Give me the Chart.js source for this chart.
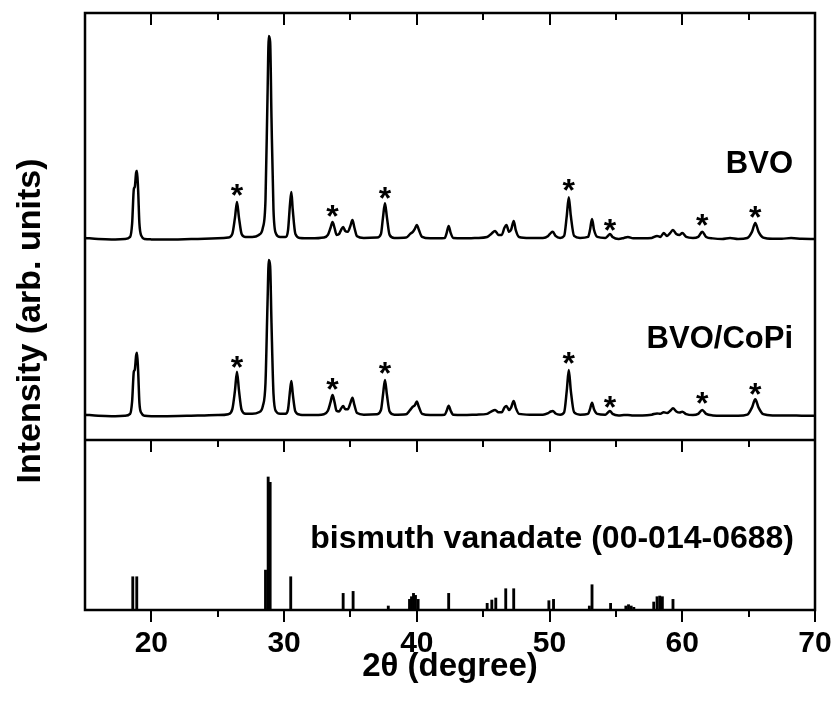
<!DOCTYPE html>
<html>
<head>
<meta charset="utf-8">
<script src="https://cdn.jsdelivr.net/npm/chart.js@4.4.1/dist/chart.umd.min.js"></script>
<style>
html,body{margin:0;padding:0;background:#fff;}
#wrap{width:836px;height:708px;position:relative;}
</style>
</head>
<body>
<div id="wrap"><canvas id="c" width="836" height="708"></canvas></div>
<script>
// ---- DATA ----
const theta = [15,16,17,18,18.4,18.55,18.68,18.75,18.85,18.92,19.0,19.1,19.25,19.5,20,21,22,23,24,25,25.8,26.1,26.3,26.45,26.6,26.8,27.1,27.6,28.1,28.4,28.6,28.75,28.85,28.95,29.05,29.2,29.4,29.7,30.1,30.3,30.45,30.55,30.65,30.85,31.2,32,33,33.3,33.5,33.65,33.8,33.95,34.15,34.3,34.45,34.6,34.8,35.0,35.15,35.3,35.5,36,37,37.3,37.45,37.6,37.75,37.95,38.3,39.2,39.5,39.7,39.85,40.0,40.15,40.4,41,42.1,42.25,42.4,42.55,42.75,43.5,44.5,45.3,45.6,45.9,46.15,46.4,46.6,46.75,46.95,47.1,47.3,47.45,47.7,48.5,49.5,49.9,50.1,50.25,50.45,50.8,51.1,51.3,51.45,51.6,51.85,52.3,52.9,53.05,53.2,53.35,53.6,54.2,54.4,54.55,54.75,55.2,55.6,55.9,56.3,57,57.7,58.1,58.35,58.6,58.85,59.1,59.3,59.55,59.8,60,60.3,60.8,61.2,61.5,61.8,62.3,63,63.6,64.2,64.9,65.25,65.5,65.75,66.1,66.8,67.5,68.2,69,70];

const bvoIntensity = [1.0,0.5,0.3,0.5,1.5,8,25,26,33,34,25,8,2,0.5,0.3,0.2,0.3,0.5,0.6,0.8,1.2,3,11,18.6,11,3,1.5,1.5,2.5,6,20,70,100,97,60,15,3,1.5,1.5,5,18,23.5,15,3,1,0.8,1.2,2.5,6,8.8,6,2.5,3,5,6.4,4.5,4,7,9.8,6,1.8,1,1.2,3,11,18,11,2.5,1,1.2,3,4,5.5,7.4,5,1.5,0.8,1,3.5,6.9,3.5,1,0.8,1,1.5,3,4.4,2.5,2.5,6,7.4,4,5,9.3,5,1.5,1,1,2,3.5,4,2,1,2,12,21,12,2,1,1.5,5,10.3,5,1.5,1,2,3,1.5,0.5,1,1.5,0.8,0.8,1,2,1.5,3.4,2,3.5,4.9,3,2.5,3.4,1.5,1,1.5,4,1.5,0.8,0.5,1,0.5,1,4,8.3,4,1.2,0.6,0.6,1,0.6,0.5];

const copiIntensity = [1.5,0.8,0.5,0.8,2,10,29,30,39,41,30,9,2.5,0.8,0.5,0.5,0.6,0.8,1,1.2,1.8,5,17,28.9,17,4.5,2,2,3,7,22,72,100,96,60,15,3.5,2,2,5,17,23,15,3.5,1.5,1.2,1.8,4,9.5,14,9.5,4,3.5,5.5,7,5,5,9,12.3,7.5,2.5,1.5,1.8,4.5,14,23.6,14,3.5,1.5,1.8,4.5,6.6,7.5,9.8,6.5,2,1.2,1.5,4,7.2,4,1.5,1.2,1.5,2,3.5,4.5,3,3,6,7,4.5,6,10.2,6,2,1.5,1.5,2.5,3.5,3.8,2.2,1.5,3,17,30,17,3,1.5,2,5,9.1,5,2,1.5,2.8,3.8,2,1,1.2,1.3,1,1,1.5,2.3,2,3,2.5,4,5.5,3.5,2.8,3.4,1.8,1.2,2,4.5,2,1,0.8,0.8,0.8,1.5,6,11.3,6,1.8,1,1,1,0.8,0.8];

const refTheta = [18.6,18.9,28.6,28.8,28.95,30.5,34.45,35.2,37.85,39.45,39.6,39.75,39.9,40.1,42.4,45.3,45.65,45.95,46.7,47.3,49.95,50.3,53.0,53.2,54.6,55.75,55.95,56.15,56.35,57.85,58.1,58.3,58.5,59.3];
const refIntensity = [25,25,30,100,96,25,12.5,14,3,8,10,12.5,11,8,12.5,5,7.5,9,16,16,7,8,3,19,5,3,4,3,2,6,10,10.5,10,8];

const starTheta = [26.45,33.65,37.6,51.45,54.55,61.5,65.5];
const starBVO   = [24.5,14.2,23,27,7.4,9.8,13.7];
const starCoPi  = [35.2,21,31,37.4,9.7,11.9,17.6];

const majorTicks = [20,30,40,50,60,70];
const minorTicks = [25,35,45,55,65];
const seriesNames = ['BVO','BVO/CoPi','bismuth vanadate (00-014-0688)'];
const xTitle = '2θ (degree)';
const yTitle = 'Intensity (arb. units)';

// ---- CHART ----
const FAM = '"Liberation Sans", Arial, Helvetica, sans-serif';

const decor = {
  id: 'decor',
  afterDatasetsDraw(chart) {
    const {ctx, chartArea: a, scales} = chart;
    const x = scales.x, yB = scales.yBVO, yC = scales.yCoPi, yR = scales.yRef;
    ctx.save();
    ctx.fillStyle = '#000';
    ctx.strokeStyle = '#000';
    // asterisks
    ctx.font = 'bold 32px ' + FAM;
    ctx.textAlign = 'center';
    ctx.textBaseline = 'alphabetic';
    const m = ctx.measureText('*');
    const off = (m.actualBoundingBoxAscent - m.actualBoundingBoxDescent) / 2;
    starTheta.forEach((t, i) => {
      const px = x.getPixelForValue(t);
      ctx.fillText('*', px, yB.getPixelForValue(starBVO[i]) + off);
      ctx.fillText('*', px, yC.getPixelForValue(starCoPi[i]) + off);
    });
    // series labels
    ctx.textAlign = 'right';
    ctx.font = 'bold 31px ' + FAM;
    ctx.fillText(seriesNames[0], a.right - 22, yB.top + 160);
    ctx.fillText(seriesNames[1], a.right - 22, yC.top + 107);
    ctx.font = 'bold 32px ' + FAM;
    ctx.fillText(seriesNames[2], a.right - 21, yR.top + 108);
    // frame
    ctx.lineWidth = 2.5;
    ctx.strokeRect(a.left, a.top, a.right - a.left, a.bottom - a.top);
    ctx.beginPath();
    ctx.moveTo(a.left, yR.top);
    ctx.lineTo(a.right, yR.top);
    ctx.stroke();
    // ticks
    ctx.lineWidth = 2;
    const drawTicks = (vals, len) => {
      ctx.beginPath();
      vals.forEach(v => {
        const px = Math.round(x.getPixelForValue(v));
        ctx.moveTo(px, a.top); ctx.lineTo(px, a.top + len);
        ctx.moveTo(px, yR.top); ctx.lineTo(px, yR.top + len);
        ctx.moveTo(px, a.bottom); ctx.lineTo(px, a.bottom + len);
      });
      ctx.stroke();
    };
    drawTicks(majorTicks, 12);
    drawTicks(minorTicks, 7);
    // y title
    ctx.translate(31, (a.top + a.bottom) / 2 + 9.5);
    ctx.rotate(-Math.PI / 2);
    ctx.textAlign = 'center';
    ctx.textBaseline = 'middle';
    ctx.font = 'bold 34px ' + FAM;
    ctx.fillText(yTitle, 0, 0);
    ctx.restore();
  }
};

new Chart(document.getElementById('c'), {
  type: 'line',
  data: {
    datasets: [
      {
        label: seriesNames[0],
        data: theta.map((t, i) => ({x: t, y: bvoIntensity[i]})),
        yAxisID: 'yBVO',
        borderColor: '#000', borderWidth: 2.5, pointRadius: 0,
        cubicInterpolationMode: 'monotone', fill: false
      },
      {
        label: seriesNames[1],
        data: theta.map((t, i) => ({x: t, y: copiIntensity[i]})),
        yAxisID: 'yCoPi',
        borderColor: '#000', borderWidth: 2.5, pointRadius: 0,
        cubicInterpolationMode: 'monotone', fill: false
      },
      {
        type: 'bar',
        label: seriesNames[2],
        data: refTheta.map((t, i) => ({x: t, y: refIntensity[i]})),
        yAxisID: 'yRef',
        backgroundColor: '#000', borderWidth: 0, barThickness: 2.2
      }
    ]
  },
  options: {
    responsive: false,
    devicePixelRatio: 1,
    animation: false,
    events: [],
    layout: {padding: {left: 85, right: 21, top: 13, bottom: 0}},
    plugins: {legend: {display: false}, tooltip: {enabled: false}, title: {display: false}},
    scales: {
      x: {
        type: 'linear', min: 15, max: 70, position: 'bottom', offset: false,
        afterBuildTicks: s => { s.ticks = majorTicks.map(v => ({value: v})); },
        afterFit: s => { s.height = 98; s.paddingLeft = 0; s.paddingRight = 0; },
        grid: {display: false, drawTicks: false, offset: false},
        border: {display: false},
        ticks: {color: '#000', font: {family: FAM, size: 30, weight: 'bold'}, padding: 16, maxRotation: 0, autoSkip: false},
        title: {display: true, text: xTitle, color: '#000', font: {family: FAM, size: 33, weight: 'bold'}, padding: {top: 0, bottom: 21}}
      },
      yBVO:  {type: 'linear', position: 'left', stack: 'panels', stackWeight: 228, weight: 3, min: -0.49, max: 111.3, display: false},
      yCoPi: {type: 'linear', position: 'left', stack: 'panels', stackWeight: 199, weight: 2, min: -14.65, max: 112.1, display: false},
      yRef:  {type: 'linear', position: 'left', stack: 'panels', stackWeight: 170, weight: 1, min: 0, max: 127.8, display: false}
    }
  },
  plugins: [decor]
});
</script>
</body>
</html>
